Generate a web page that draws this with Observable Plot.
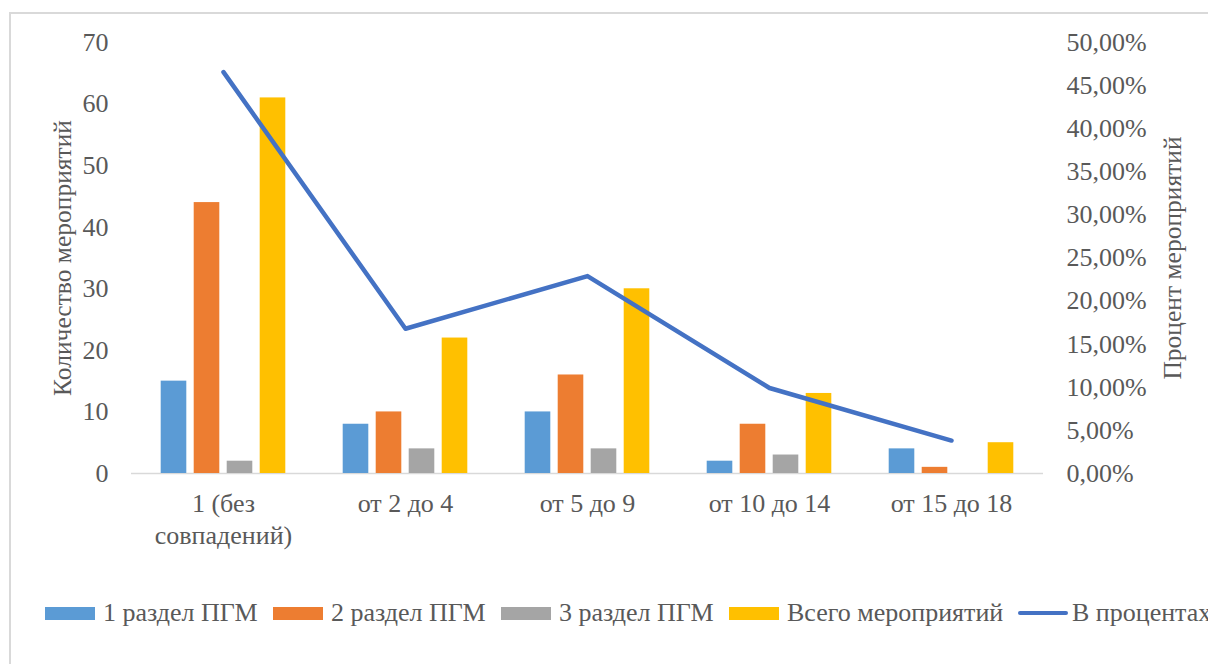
<!DOCTYPE html>
<html>
<head>
<meta charset="utf-8">
<script src="https://cdn.jsdelivr.net/npm/d3@7"></script>
<script src="https://cdn.jsdelivr.net/npm/@observablehq/plot@0.6"></script>
<style>
  html, body { margin: 0; padding: 0; background: #fff; overflow: hidden; width: 1208px; height: 664px;
               font-family: 'Liberation Serif', 'Times New Roman', serif; }
  #frame { position: absolute; left: 9px; top: 12px; width: 1400px; height: 900px; border: 2px solid #d9d9d9; box-sizing: border-box; }
  #chart { position: absolute; left: 0; top: 0; }
  #legend { position: absolute; left: 0; top: 598px; height: 30px; width: 1208px; }
  .item { position: absolute; display: flex; align-items: center; top: 0; height: 30px; white-space: nowrap;
          font-family: 'Liberation Serif', 'Times New Roman', serif; font-size: 26px; color: #595959; }
  .sw { display: inline-block; width: 50px; height: 13px; margin-right: 8px; }
  .ln { display: inline-block; width: 50px; height: 4.5px; border-radius: 3px; margin-right: 4px; }
</style>
</head>
<body>
<div id="frame"></div>
<div id="chart"></div>
<div id="legend"></div>
<script>
const categories = ["1 (без совпадений)", "от 2 до 4", "от 5 до 9", "от 10 до 14", "от 15 до 18"];
const categoryTickLabels = ["1 (без\nсовпадений)", "от 2 до 4", "от 5 до 9", "от 10 до 14", "от 15 до 18"];
const seriesNames = ["1 раздел ПГМ", "2 раздел ПГМ", "3 раздел ПГМ", "Всего мероприятий"];
const lineName = "В процентах";
const razdel1 = [15, 8, 10, 2, 4];
const razdel2 = [44, 10, 16, 8, 1];
const razdel3 = [2, 4, 4, 3, 0];
const vsego = [61, 22, 30, 13, 5];
const vProcentah = [46.56, 16.79, 22.90, 9.92, 3.82];
const leftTicks = [0, 10, 20, 30, 40, 50, 60, 70];
const rightTicks = [0, 5, 10, 15, 20, 25, 30, 35, 40, 45, 50];
const leftTitle = "Количество мероприятий";
const rightTitle = "Процент мероприятий";

const colors = ["#5B9BD5", "#ED7D31", "#A5A5A5", "#FFC000"];
const lineColor = "#4472C4";
const seriesValues = [razdel1, razdel2, razdel3, vsego];

const W = 1208, H = 560;
const mL = 131, mR = 1208 - 1043, mT = 42, mB = H - 473;
const scaleK = 70 / 50; // left units per percent

const bandW = (W - mL - mR) / categories.length;
const barW = 26, step = 33;
const inset = (bandW - barW) / 2;

const barMarks = seriesValues.map((vals, i) =>
  Plot.barY(categories.map((c, j) => ({c, v: vals[j]})), {
    x: "c", y: "v", fill: colors[i],
    insetLeft: inset, insetRight: inset, dx: (i - 1.5) * step
  })
);

const lineData = categories.map((c, j) => ({c, p: vProcentah[j]}));
const FS = 26;

const plot = Plot.plot({
  width: W, height: H,
  marginLeft: mL, marginRight: mR, marginTop: mT, marginBottom: mB,
  style: "font-family: 'Liberation Serif', 'Times New Roman', serif; font-size: 26px; color: #595959; background: transparent;",
  x: { type: "band", domain: categories, padding: 0, label: null },
  y: { domain: [0, 70], label: null },
  marks: [
    Plot.ruleY([0], { stroke: "#d9d9d9", strokeWidth: 1.5 }),
    ...barMarks,
    Plot.line(lineData, { x: "c", y: d => d.p * scaleK, stroke: lineColor, strokeWidth: 4.5, strokeLinecap: "round", strokeLinejoin: "round" }),
    Plot.axisY(leftTicks, { anchor: "left", tickSize: 0, tickPadding: 23, label: null, fontSize: FS }),
    Plot.axisY(rightTicks.map(t => t * scaleK), { anchor: "right", tickSize: 0, tickPadding: 23, label: null, fontSize: FS,
      tickFormat: v => (v / scaleK).toFixed(2).replace(".", ",") + "%" }),
    Plot.axisX({ tickSize: 0, tickPadding: 16, label: null, fontSize: FS, lineHeight: 1.23,
      tickFormat: c => categoryTickLabels[categories.indexOf(c)] }),
    Plot.text([leftTitle], { frameAnchor: "left", dx: -69, rotate: -90, textAnchor: "middle", fontSize: 25.5, fill: "#595959" }),
    Plot.text([rightTitle], { frameAnchor: "right", dx: 129, rotate: -90, textAnchor: "middle", fontSize: 25.5, fill: "#595959" })
  ]
});
document.getElementById("chart").appendChild(plot);

const legend = document.getElementById("legend");
const starts = [45, 273, 501, 729];
seriesNames.forEach((name, i) => {
  const it = document.createElement("div");
  it.className = "item"; it.style.left = starts[i] + "px";
  it.innerHTML = `<span class="sw" style="background:${colors[i]}"></span><span>${name}</span>`;
  legend.appendChild(it);
});
const li = document.createElement("div");
li.className = "item"; li.style.left = "1018px";
li.innerHTML = `<span class="ln" style="background:${lineColor}"></span><span>${lineName}</span>`;
legend.appendChild(li);
</script>
</body>
</html>
